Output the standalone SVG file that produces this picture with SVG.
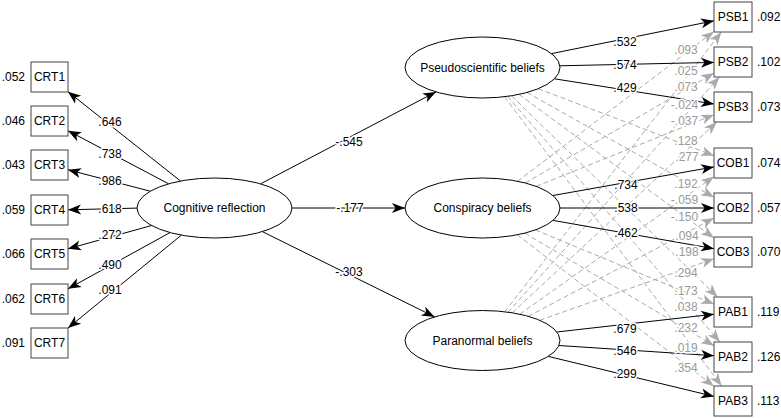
<svg xmlns="http://www.w3.org/2000/svg" width="781" height="418" viewBox="0 0 781 418">
  <style>
    text { font-family: "Liberation Sans", Arial, sans-serif; font-size: 12px; }
    .box { fill: #fff; stroke: #444; stroke-width: 1; }
    .lat { fill: #fff; stroke: #000; stroke-width: 1; }
    .name { fill: #000; text-anchor: middle; }
    .res { fill: #000; }
    .path { fill: none; stroke: #000; stroke-width: 1; marker-end: url(#head); }
    .cross { fill: none; stroke: #aaa; stroke-width: 1; stroke-dasharray: 5 3; marker-end: url(#headGray); }
    .lbl { fill: #000; text-anchor: middle; stroke: #fff; stroke-width: 3; paint-order: stroke; stroke-linejoin: round; }
    .glbl { fill: #9a9a9a; text-anchor: middle; stroke: #fff; stroke-width: 3; paint-order: stroke; stroke-linejoin: round; }
  </style>
  <defs>
    <marker id="head" viewBox="-13 -6 14 12" refX="0" refY="0" markerWidth="14" markerHeight="12" markerUnits="userSpaceOnUse" orient="auto">
      <path d="M0,0 L-13,-5 L-9.5,0 L-13,5 Z" fill="#000"/>
    </marker>
    <marker id="headGray" viewBox="-13 -6 14 12" refX="0" refY="0" markerWidth="14" markerHeight="12" markerUnits="userSpaceOnUse" orient="auto">
      <path d="M0,0 L-13,-5 L-9.5,0 L-13,5 Z" fill="#aaa"/>
    </marker>
  </defs>

  <!-- connectors -->
  <g id="connectors">
    <!-- cross-loadings (dashed) -->
    <g id="cross-loadings">
      <path class="cross" d="M517.6,181.3 L714,31.5"/>
      <path class="cross" d="M525.4,183 L714,73.1"/>
      <path class="cross" d="M536.2,186.4 L714,114.7"/>
      <path class="cross" d="M535.4,229.9 L714,304.1"/>
      <path class="cross" d="M524.8,233.1 L714,345.7"/>
      <path class="cross" d="M517.3,234.8 L714,386.3"/>
      <path class="cross" d="M538.2,88.7 L714,155.7"/>
      <path class="cross" d="M527,92.5 L714,197.3"/>
      <path class="cross" d="M519,94.4 L714,238"/>
      <path class="cross" d="M511.5,95.8 L717.6,297"/>
      <path class="cross" d="M507.5,96.4 L720,342"/>
      <path class="cross" d="M504.5,96.7 L721.7,386"/>
      <path class="cross" d="M504.7,311.8 L721.4,32"/>
      <path class="cross" d="M508,312.2 L719.5,77"/>
      <path class="cross" d="M512.2,312.8 L716.9,122"/>
      <path class="cross" d="M519.7,314.2 L714,176.5"/>
      <path class="cross" d="M528.3,316.3 L714,218.1"/>
      <path class="cross" d="M539.7,320.3 L714,258.7"/>
    </g>
    <!-- cognitive reflection indicators -->
    <path class="path" d="M180.5,181 L68,91.7"/>
    <path class="path" d="M168.6,183.8 L68,130.7"/>
    <path class="path" d="M150.2,191.2 L68,169.8"/>
    <path class="path" d="M137,208.1 L68,209.8"/>
    <path class="path" d="M151.6,225.5 L68,248.8"/>
    <path class="path" d="M170,232.6 L68,288.8"/>
    <path class="path" d="M181.4,235.1 L68,328"/>
    <!-- structural paths -->
    <path class="path" d="M261,183.6 L436,91.9"/>
    <path class="path" d="M292,208 L405,208"/>
    <path class="path" d="M262.3,231.6 L434.7,316.9"/>
    <!-- main loadings -->
    <path class="path" d="M551.5,53.6 L714,20.8"/>
    <path class="path" d="M559.9,65.8 L714,62.4"/>
    <path class="path" d="M554.4,78.8 L714,104"/>
    <path class="path" d="M552.9,195.5 L714,166.9"/>
    <path class="path" d="M560,208 L714,208"/>
    <path class="path" d="M553,220.4 L714,248.7"/>
    <path class="path" d="M556.8,332 L714,314.2"/>
    <path class="path" d="M558.9,345.5 L714,355.7"/>
    <path class="path" d="M548.2,356.4 L714,396.4"/>
  </g>

  <!-- latent variables -->
  <g id="cognitive-reflection">
    <ellipse class="lat" cx="214.5" cy="208" rx="77.5" ry="30"/>
    <text class="name" x="214.5" y="212.3">Cognitive reflection</text>
  </g>
  <g id="pseudoscientific-beliefs">
    <ellipse class="lat" cx="482.5" cy="67.5" rx="77.5" ry="30.5"/>
    <text class="name" x="482.5" y="71.8">Pseudoscientific beliefs</text>
  </g>
  <g id="conspiracy-beliefs">
    <ellipse class="lat" cx="482.5" cy="208" rx="77.5" ry="30"/>
    <text class="name" x="482.5" y="212.3">Conspiracy beliefs</text>
  </g>
  <g id="paranormal-beliefs">
    <ellipse class="lat" cx="482.5" cy="340.5" rx="77.5" ry="30"/>
    <text class="name" x="482.5" y="344.8">Paranormal beliefs</text>
  </g>

  <!-- CRT items -->
  <g id="CRT1"><rect class="box" x="31" y="62" width="37" height="30"/><text class="name" x="49.5" y="81.3">CRT1</text><text class="res" x="25" y="81.3" text-anchor="end">.052</text></g>
  <g id="CRT2"><rect class="box" x="31" y="106" width="37" height="30"/><text class="name" x="49.5" y="125.3">CRT2</text><text class="res" x="25" y="125.3" text-anchor="end">.046</text></g>
  <g id="CRT3"><rect class="box" x="31" y="150" width="37" height="30"/><text class="name" x="49.5" y="169.3">CRT3</text><text class="res" x="25" y="169.3" text-anchor="end">.043</text></g>
  <g id="CRT4"><rect class="box" x="31" y="195" width="37" height="30"/><text class="name" x="49.5" y="214.3">CRT4</text><text class="res" x="25" y="214.3" text-anchor="end">.059</text></g>
  <g id="CRT5"><rect class="box" x="31" y="239" width="37" height="30"/><text class="name" x="49.5" y="258.3">CRT5</text><text class="res" x="25" y="258.3" text-anchor="end">.066</text></g>
  <g id="CRT6"><rect class="box" x="31" y="284" width="37" height="30"/><text class="name" x="49.5" y="303.3">CRT6</text><text class="res" x="25" y="303.3" text-anchor="end">.062</text></g>
  <g id="CRT7"><rect class="box" x="31" y="328" width="37" height="30"/><text class="name" x="49.5" y="347.3">CRT7</text><text class="res" x="25" y="347.3" text-anchor="end">.091</text></g>

  <!-- belief items -->
  <g id="PSB1"><rect class="box" x="714" y="2" width="38" height="30"/><text class="name" x="733" y="21.3">PSB1</text><text class="res" x="757" y="21.3">.092</text></g>
  <g id="PSB2"><rect class="box" x="714" y="47" width="38" height="30"/><text class="name" x="733" y="66.3">PSB2</text><text class="res" x="757" y="66.3">.102</text></g>
  <g id="PSB3"><rect class="box" x="714" y="92" width="38" height="30"/><text class="name" x="733" y="111.3">PSB3</text><text class="res" x="757" y="111.3">.073</text></g>
  <g id="COB1"><rect class="box" x="714" y="148" width="38" height="30"/><text class="name" x="733" y="167.3">COB1</text><text class="res" x="757" y="167.3">.074</text></g>
  <g id="COB2"><rect class="box" x="714" y="193" width="38" height="30"/><text class="name" x="733" y="212.3">COB2</text><text class="res" x="757" y="212.3">.057</text></g>
  <g id="COB3"><rect class="box" x="714" y="237" width="38" height="30"/><text class="name" x="733" y="256.3">COB3</text><text class="res" x="757" y="256.3">.070</text></g>
  <g id="PAB1"><rect class="box" x="714" y="297" width="38" height="30"/><text class="name" x="733" y="316.3">PAB1</text><text class="res" x="757" y="316.3">.119</text></g>
  <g id="PAB2"><rect class="box" x="714" y="342" width="38" height="30"/><text class="name" x="733" y="361.3">PAB2</text><text class="res" x="757" y="361.3">.126</text></g>
  <g id="PAB3"><rect class="box" x="714" y="386" width="38" height="30"/><text class="name" x="733" y="405.3">PAB3</text><text class="res" x="757" y="405.3">.113</text></g>

  <!-- path coefficients -->
  <g id="coefficients">
    <text class="lbl" x="110" y="126">.646</text>
    <text class="lbl" x="110" y="157.6">.738</text>
    <text class="lbl" x="110" y="185">.986</text>
    <text class="lbl" x="110" y="212.6">.618</text>
    <text class="lbl" x="110" y="239.3">.272</text>
    <text class="lbl" x="110" y="268.6">.490</text>
    <text class="lbl" x="110" y="294.3">.091</text>
    <text class="lbl" x="349" y="146.3">-.545</text>
    <text class="lbl" x="350" y="212.3">-.177</text>
    <text class="lbl" x="349" y="276.3">-.303</text>
    <text class="lbl" x="625" y="46">.532</text>
    <text class="lbl" x="625" y="69.3">.574</text>
    <text class="lbl" x="625" y="92.3">.429</text>
    <text class="lbl" x="626" y="189.3">.734</text>
    <text class="lbl" x="626" y="211.6">.538</text>
    <text class="lbl" x="626" y="237">.462</text>
    <text class="lbl" x="625" y="332.6">.679</text>
    <text class="lbl" x="625" y="355">.546</text>
    <text class="lbl" x="625" y="377.6">.299</text>
  </g>
  <g id="cross-coefficients">
    <text class="glbl" x="686" y="54.3">.093</text>
    <text class="glbl" x="686" y="75.3">.025</text>
    <text class="glbl" x="686" y="91.3">.073</text>
    <text class="glbl" x="684.5" y="109.3">-.024</text>
    <text class="glbl" x="684.5" y="125.3">-.037</text>
    <text class="glbl" x="686" y="145.3">.128</text>
    <text class="glbl" x="687" y="161.3">.277</text>
    <text class="glbl" x="686" y="188.3">.192</text>
    <text class="glbl" x="684.5" y="204.3">-.059</text>
    <text class="glbl" x="684.5" y="221.3">-.150</text>
    <text class="glbl" x="687" y="240.3">.094</text>
    <text class="glbl" x="687" y="256.3">.198</text>
    <text class="glbl" x="686" y="277.3">.294</text>
    <text class="glbl" x="686" y="295.3">.173</text>
    <text class="glbl" x="686" y="311.3">.038</text>
    <text class="glbl" x="686" y="332.3">.232</text>
    <text class="glbl" x="686" y="352.3">.019</text>
    <text class="glbl" x="686" y="372.3">.354</text>
  </g>
</svg>
